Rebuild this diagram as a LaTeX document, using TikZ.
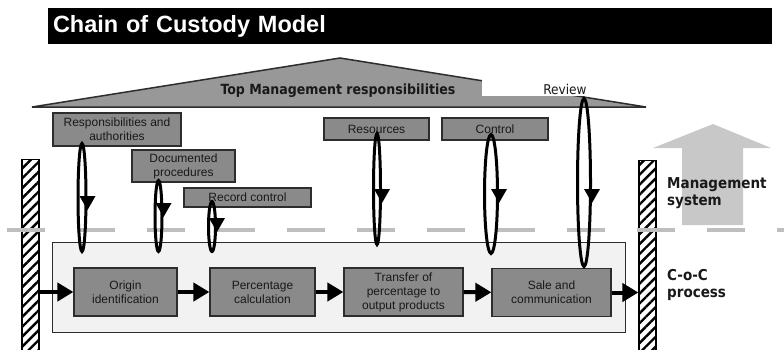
\documentclass[tikz,border=0pt]{standalone}
\usepackage{fontspec}
\setmainfont{Liberation Sans}
\newfontfamily\tahoma{DejaVu Sans Condensed}
\usetikzlibrary{shapes.geometric,arrows.meta,patterns.meta}
\definecolor{boxgray}{RGB}{138,138,138}
\definecolor{roofgray}{RGB}{152,152,152}
\definecolor{panelgray}{RGB}{242,242,242}
\definecolor{dashgray}{RGB}{190,190,190}
\definecolor{arrowgray}{RGB}{200,200,200}
\definecolor{edgegray}{RGB}{45,45,45}
\definecolor{txt}{RGB}{25,25,25}
\tikzset{
  sbox/.style={draw=edgegray, fill=boxgray, line width=1.2pt, align=center, inner sep=0pt,
    text=txt, font=\fontsize{12}{14}\selectfont},
  pbox/.style={sbox, minimum height=48pt},
  panel/.style={draw=edgegray, fill=panelgray, line width=1pt, inner sep=0pt},
  loopring/.style={ellipse, draw=black, line width=3pt, inner sep=0pt},
  flow/.style={-{Triangle[width=18pt,length=16pt]}, line width=4pt, black},
  post/.style={draw=black, line width=1.2pt, fill=white, inner sep=0pt,
    pattern={Lines[angle=45,distance=7pt,line width=2.4pt]}, minimum width=17pt},
  sidelabel/.style={font=\tahoma\bfseries\fontsize{15}{17}\selectfont, align=left,
    inner sep=0pt, anchor=north west, text=txt},
}
\newcommand\downhead[1]{\fill (#1) ++(-8,-14) -- ++(16,0) -- (#1) -- cycle;}
\begin{document}
\begin{tikzpicture}[x=1pt,y=-1pt]
\useasboundingbox (0,0) rectangle (784,349);
\fill[white] (0,0) rectangle (784,349);
% title
\node[fill=black, text=white, minimum width=724pt, minimum height=36pt, text width=714pt,
  inner xsep=5pt, inner ysep=0pt, align=left, font=\bfseries\fontsize{23.5}{25}\selectfont]
  (title) at (410,26) {Chain of Custody Model};
% roof
\fill[roofgray] (32,107) -- (340,58) -- (646,107) -- cycle;
\draw[edgegray, line width=1.5pt] (32,107) -- (340,58) -- (646,107) -- cycle;
\fill[white] (482,50) rectangle (587,96.3);
\node[font=\tahoma\bfseries\fontsize{14}{16}\selectfont, text=txt] (top) at (338,91) {Top Management responsibilities};
\node[font=\tahoma\fontsize{13.5}{15}\selectfont, text=txt] (review) at (565,89) {Review};
% big arrow
\fill[arrowgray] (682,225) -- (682,148) -- (653,148) -- (713,124) -- (771,148) -- (743,148) -- (743,225) -- cycle;
% posts
\node[post, minimum height=194pt, anchor=north] (lpost) at (30.5,158) {};
\node[post, minimum height=192pt, anchor=north] (rpost) at (647.5,160) {};
% side labels
\node[sidelabel] (ms) at (667,177) {Management\\system};
\node[sidelabel] (coc) at (667,269) {C-o-C\\process};
% panel
\node[panel, minimum width=573pt, minimum height=90pt] (panel) at (338.5,287) {};
% dashed line
\draw[dashgray, line width=4pt, dash pattern=on 38pt off 32pt] (7,230) -- (784,230);
% small boxes
\node[sbox, minimum width=128pt, minimum height=33pt] (resp) at (117,129.5) {Responsibilities and\\authorities};
\node[sbox, minimum width=103pt, minimum height=32pt] (doc) at (183.5,166) {Documented\\procedures};
\node[sbox, minimum width=127pt, minimum height=19pt] (rec) at (247.5,197.5) {Record control};
\node[sbox, minimum width=105pt, minimum height=22pt] (res) at (376.5,129) {Resources};
\node[sbox, minimum width=106pt, minimum height=22pt] (ctl) at (495,129) {Control};
% process boxes
\node[pbox, minimum width=103pt] (orig) at (125.5,292) {Origin\\identification};
\node[pbox, minimum width=105pt] (perc) at (262.5,292) {Percentage\\calculation};
\node[pbox, minimum width=119pt] (trans) at (403.5,292) {Transfer of\\percentage to\\output products};
\node[pbox, minimum width=119pt] (sale) at (551.5,292.5) {Sale and\\communication};
% flow arrows
\draw[flow] (lpost.east |- orig.west) -- (orig.west);
\draw[flow] (orig) -- (perc);
\draw[flow] (perc) -- (trans);
\draw[flow] (trans) -- (sale);
\draw[flow] (sale.east) -- (rpost.west |- sale.east);
% loops
\node[loopring, minimum width=8pt, minimum height=108pt] (l1) at (82,197.5) {};
\node[loopring, minimum width=7pt, minimum height=71pt] (l2) at (158.5,216) {};
\node[loopring, minimum width=7pt, minimum height=50pt] (l3) at (212,226.5) {};
\node[loopring, minimum width=7pt, minimum height=111pt] (l4) at (377,189) {};
\node[loopring, minimum width=13pt, minimum height=119pt] (l5) at (491,194) {};
\node[loopring, minimum width=13pt, minimum height=168pt] (l6) at (584,182.5) {};
\path (l1.east) ++(0,12.5) coordinate (h1);
\path (l2.east) ++(0,1) coordinate (h2);
\path (l3.east) ++(0,5.5) coordinate (h3);
\path (l4.east) ++(0,14) coordinate (h4);
\path (l5.east) ++(0,9) coordinate (h5);
\path (l6.east) ++(0,20.5) coordinate (h6);
\downhead{h1}\downhead{h2}\downhead{h3}\downhead{h4}\downhead{h5}\downhead{h6}
\end{tikzpicture}
\end{document}
